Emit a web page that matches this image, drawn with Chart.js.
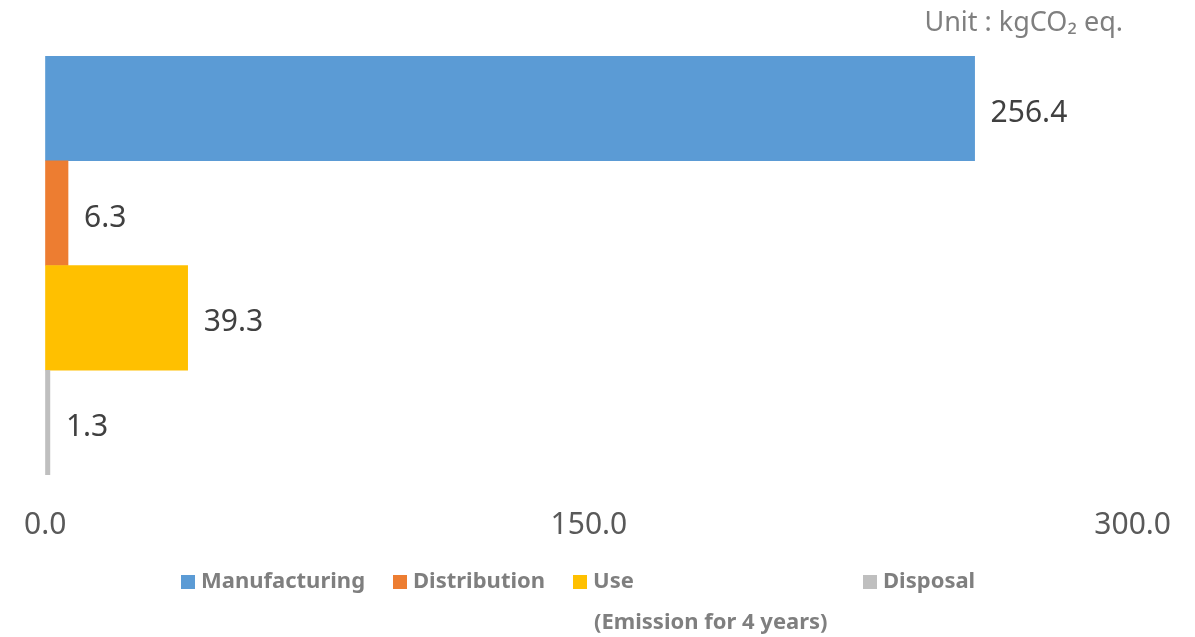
<!DOCTYPE html>
<html>
<head>
<meta charset="utf-8">
<script src="https://cdn.jsdelivr.net/npm/chart.js@4"></script>
<style>
  body { margin: 0; background: #fff; font-family: "Noto Sans", sans-serif; }
  #wrap { position: relative; width: 1195px; height: 637px; }
  #unit { position: absolute; right: 72px; top: 2px; font-size: 27px; color: #7f7f7f; }
  .item { position: absolute; top: 564px; font-size: 22px; font-weight: bold; color: #7f7f7f; white-space: nowrap; }
  .item span { display: inline-block; width: 14px; height: 14px; margin-right: 6px; vertical-align: -1px; }
  #note { position: absolute; top: 605px; left: 594px; font-size: 22px; font-weight: bold; color: #7f7f7f; }
</style>
</head>
<body>
<div id="wrap">
  <canvas id="chart" width="1195" height="637"></canvas>
  <div id="unit">Unit : kgCO₂ eq.</div>
  <div id="legend"></div>
  <div id="note">(Emission for 4 years)</div>
</div>
<script>
let stages = ["Manufacturing", "Distribution", "Use", "Disposal"];
let emissions = [256.4, 6.3, 39.3, 1.3];
let stageColors = ["#5B9BD5", "#ED7D31", "#FFC000", "#BFBFBF"];
let legendLeft = [181, 393, 573, 863];

// legend below the chart
let legend = document.getElementById("legend");
stages.forEach(function (name, i) {
    let item = document.createElement("div");
    item.className = "item";
    item.style.left = legendLeft[i] + "px";
    let box = document.createElement("span");
    box.style.background = stageColors[i];
    item.appendChild(box);
    item.appendChild(document.createTextNode(name));
    legend.appendChild(item);
});

// value text next to each bar
let valueLabels = {
    id: "valueLabels",
    afterDatasetsDraw(chart) {
        let ctx = chart.ctx;
        let meta = chart.getDatasetMeta(0);
        ctx.save();
        ctx.font = "30px 'Noto Sans'";
        ctx.fillStyle = "#404040";
        ctx.textBaseline = "middle";
        meta.data.forEach(function (bar, i) {
            ctx.fillText(emissions[i].toFixed(1), bar.x + 16, bar.y + 5);
        });
        ctx.restore();
    }
};

new Chart(document.getElementById("chart").getContext("2d"), {
    type: "bar",
    data: {
        labels: stages,
        datasets: [{
            data: emissions,
            backgroundColor: stageColors,
            barPercentage: 1,
            categoryPercentage: 1
        }]
    },
    options: {
        indexAxis: "y",
        responsive: false,
        animation: false,
        layout: { padding: { left: 40, right: 60, top: 56, bottom: 70 } },
        plugins: { legend: { display: false }, tooltip: { enabled: false } },
        scales: {
            x: {
                min: 0,
                max: 300,
                ticks: {
                    stepSize: 150,
                    padding: 24,
                    color: "#595959",
                    font: { family: "Noto Sans", size: 30 },
                    callback: function (v) { return v.toFixed(1); }
                },
                grid: { display: false },
                border: { display: false }
            },
            y: { display: false }
        }
    },
    plugins: [valueLabels]
});
</script>
</body>
</html>
